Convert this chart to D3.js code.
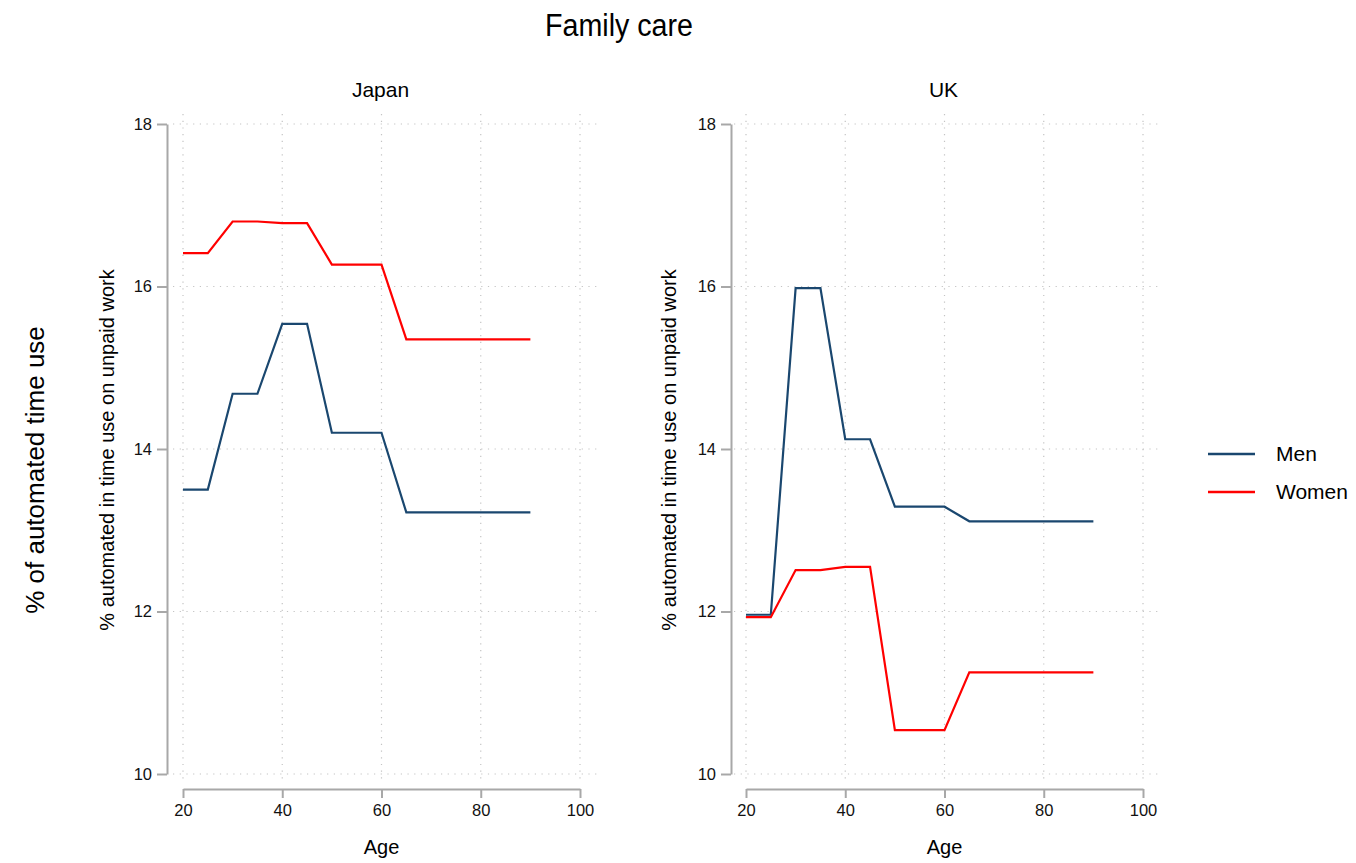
<!DOCTYPE html>
<html lang="en">
<head>
  <meta charset="UTF-8">
  <title>Family care</title>
  <script src="https://d3js.org/d3.v7.min.js"></script>
  <style>
    body {
      margin: 0;
      background: #fff;
      font-family: "Liberation Sans", Arial, Helvetica, sans-serif;
    }
    .axis path, .axis line {
      stroke: #a8a8a8;
      stroke-width: 2;
    }
    .axis text {
      font-size: 16.5px;
      fill: #111;
    }
    .grid line {
      stroke: #c4c4c4;
      stroke-width: 1.2;
      stroke-dasharray: 1.2 5.5;
    }
  </style>
</head>
<body>
  <div id="chart"></div>

  <script>
    // data
    const ages = [20, 25, 30, 35, 40, 45, 50, 55, 60, 65, 70, 75, 80, 85, 90];
    const japanMen   = [13.50, 13.50, 14.68, 14.68, 15.54, 15.54, 14.20, 14.20, 14.20, 13.22, 13.22, 13.22, 13.22, 13.22, 13.22];
    const japanWomen = [16.41, 16.41, 16.80, 16.80, 16.78, 16.78, 16.27, 16.27, 16.27, 15.35, 15.35, 15.35, 15.35, 15.35, 15.35];
    const ukMen      = [11.96, 11.96, 15.98, 15.98, 14.12, 14.12, 13.29, 13.29, 13.29, 13.11, 13.11, 13.11, 13.11, 13.11, 13.11];
    const ukWomen    = [11.93, 11.93, 12.51, 12.51, 12.55, 12.55, 10.54, 10.54, 10.54, 11.25, 11.25, 11.25, 11.25, 11.25, 11.25];
    const xTicks = [20, 40, 60, 80, 100];
    const yTicks = [10, 12, 14, 16, 18];
    const seriesNames = ["Men", "Women"];
    const seriesColors = ["#1a476f", "#ff0000"];

    const panels = [
      {title: "Japan", left: 183, right: 580, axisX: 167, gridL: 173, gridR: 597, men: japanMen, women: japanWomen, labelX: 107},
      {title: "UK", left: 746, right: 1143, axisX: 731, gridL: 734, gridR: 1158, men: ukMen, women: ukWomen, labelX: 669}
    ];

    const W = 1356, H = 863;
    const svg = d3.select("#chart").append("svg")
      .attr("width", W).attr("height", H);

    const y = d3.scaleLinear().domain([10, 18]).range([774, 124]);

    svg.append("text")
      .attr("x", 619).attr("y", 36)
      .attr("text-anchor", "middle")
      .attr("textLength", 148)
      .attr("lengthAdjust", "spacingAndGlyphs")
      .style("font-size", "31px")
      .text("Family care");

    svg.append("text")
      .attr("transform", "translate(44,470) rotate(-90)")
      .attr("text-anchor", "middle")
      .style("font-size", "26px")
      .text("% of automated time use");

    panels.forEach(p => {
      const x = d3.scaleLinear().domain([20, 100]).range([p.left, p.right]);
      const g = svg.append("g");

      // grid
      g.append("g").attr("class", "grid")
        .selectAll("line.h").data(yTicks).enter().append("line")
        .attr("x1", p.gridL).attr("x2", p.gridR)
        .attr("y1", d => y(d)).attr("y2", d => y(d));
      g.append("g").attr("class", "grid")
        .selectAll("line.v").data(xTicks).enter().append("line")
        .attr("x1", d => x(d)).attr("x2", d => x(d))
        .attr("y1", 114).attr("y2", 782);

      // axes
      const yAxis = d3.axisLeft(y).tickValues(yTicks).tickSize(10).tickPadding(5).tickSizeOuter(0);
      g.append("g").attr("class", "axis")
        .attr("transform", `translate(${p.axisX},0)`)
        .call(yAxis);

      const xAxis = d3.axisBottom(x).tickValues(xTicks).tickSize(9).tickPadding(6).tickSizeOuter(0);
      g.append("g").attr("class", "axis")
        .attr("transform", `translate(0,789)`)
        .call(xAxis);

      g.selectAll(".axis path").attr("stroke", "#a8a8a8");
      g.selectAll(".axis text").attr("fill", "#111");

      // titles
      g.append("text")
        .attr("x", (p.left + p.right) / 2 - 1).attr("y", 97)
        .attr("text-anchor", "middle")
        .style("font-size", "21px")
        .text(p.title);

      g.append("text")
        .attr("x", (p.left + p.right) / 2).attr("y", 854)
        .attr("text-anchor", "middle")
        .style("font-size", "20px")
        .text("Age");

      g.append("text")
        .attr("transform", `translate(${p.labelX},450) rotate(-90)`)
        .attr("text-anchor", "middle")
        .attr("dy", "0.35em")
        .style("font-size", "20px")
        .text("% automated in time use on unpaid work");

      // lines
      const line = d3.line().x((d, i) => x(ages[i])).y(d => y(d));
      [p.men, p.women].forEach((vals, k) => {
        g.append("path")
          .datum(vals)
          .attr("fill", "none")
          .attr("stroke", seriesColors[k])
          .attr("stroke-width", 2.2)
          .attr("d", line);
      });
    });

    // legend
    const legend = svg.append("g");
    seriesNames.forEach((name, k) => {
      const ly = 454 + k * 38;
      legend.append("line")
        .attr("x1", 1208).attr("x2", 1255)
        .attr("y1", ly).attr("y2", ly)
        .attr("stroke", seriesColors[k])
        .attr("stroke-width", 2.5);
      legend.append("text")
        .attr("x", 1276).attr("y", ly)
        .attr("dy", "0.35em")
        .style("font-size", "21px")
        .text(name);
    });
  </script>
</body>
</html>
